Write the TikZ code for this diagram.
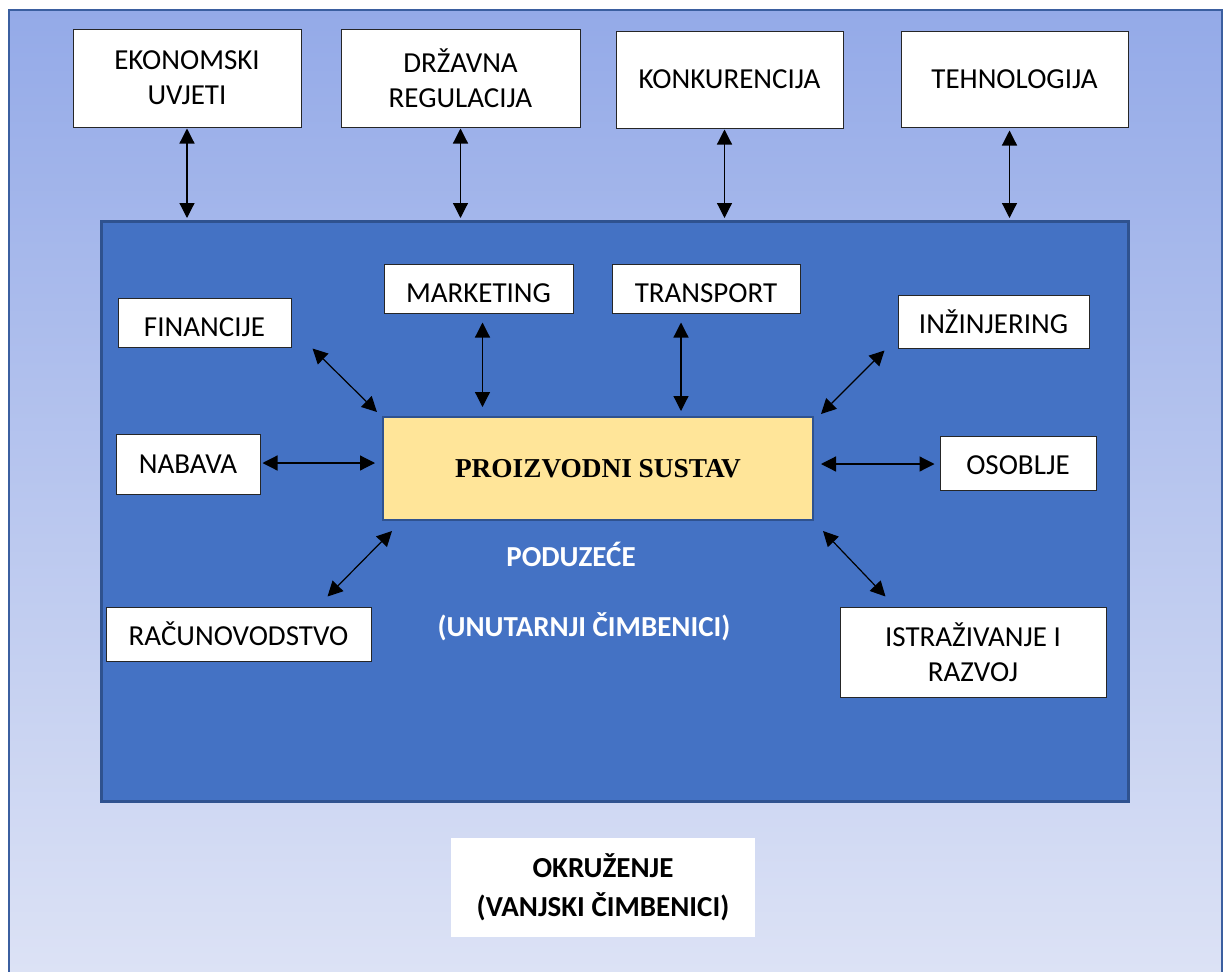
\documentclass[tikz,border=0pt]{standalone}
\usepackage{fontspec}
\setmainfont{Carlito}
\newfontfamily\psfont{Liberation Serif}
\usetikzlibrary{arrows.meta,calc}
\definecolor{outerTop}{HTML}{94AAE8}
\definecolor{outerBot}{HTML}{DCE2F5}
\definecolor{outerBorder}{HTML}{3B5FA0}
\definecolor{innerFill}{HTML}{4472C4}
\definecolor{innerBorder}{HTML}{2F528F}
\definecolor{psFill}{HTML}{FFE599}
\begin{document}
\begin{tikzpicture}[x=1pt,y=-1pt,
  box/.style={draw=black!85, line width=1pt, fill=white, align=center, inner sep=0pt,
    font=\fontsize{29}{35}\selectfont, text=black},
  lowtext/.style={text height=#1},
  arr/.style={{Triangle[length=15pt,width=15pt]}-{Triangle[length=15pt,width=15pt]}, line width=1.2pt, draw=black},
  wlabel/.style={text=white, font=\fontsize{29}{32}\selectfont\bfseries, inner sep=0pt}]
\useasboundingbox (0,0) rectangle (1227,972);
\fill[white] (0,0) rectangle (1227,972);
\shade[top color=outerTop, bottom color=outerBot] (9,10) rectangle (1222,972);
\draw[outerBorder, line width=2pt] (9,980) -- (9,10) -- (1222,10) -- (1222,980);

% inner company box
\node[draw=innerBorder, line width=3pt, fill=innerFill, minimum width=1027pt, minimum height=580pt, inner sep=0pt] (inner) at (615,511.5) {};

% external factors
\node[box, minimum width=228pt, minimum height=98pt] (eko) at (187,78) {EKONOMSKI\\UVJETI};
\node[box, minimum width=239pt, minimum height=98pt] (drz) at (460.5,78) {DRŽAVNA\\REGULACIJA};
\node[box, minimum width=227pt, minimum height=97pt] (kon) at (729.5,79.5) {KONKURENCIJA};
\node[box, minimum width=227pt, minimum height=96pt] (teh) at (1014.5,79) {TEHNOLOGIJA};

% central system
\node[draw=innerBorder, line width=2pt, fill=psFill, minimum width=430pt, minimum height=103pt, inner sep=0pt,
  font=\psfont\fontsize{27.3}{30}\selectfont\bfseries] (ps) at (598,468.5) {PROIZVODNI SUSTAV};

% internal factors
\node[box, lowtext=29pt, minimum width=173pt, minimum height=49pt] (fin) at (204.5,322.5) {FINANCIJE};
\node[box, lowtext=28pt, minimum width=189pt, minimum height=49pt] (mkt) at (478.5,288.5) {MARKETING};
\node[box, lowtext=28pt, minimum width=188pt, minimum height=49pt] (trn) at (706,288.5) {TRANSPORT};
\node[box, minimum width=191pt, minimum height=53pt] (inz) at (993.5,321.5) {INŽINJERING};
\node[box, minimum width=144pt, minimum height=60pt] (nab) at (188,464) {NABAVA};
\node[box, lowtext=24pt, minimum width=156pt, minimum height=54pt] (oso) at (1018,463) {OSOBLJE};
\node[box, minimum width=265pt, minimum height=54pt] (rac) at (238.5,634) {RAČUNOVODSTVO};
\node[box, minimum width=266pt, minimum height=90pt] (ist) at (973,652) {ISTRAŽIVANJE I\\RAZVOJ};

% labels
\node[wlabel] (pod) at (571,554) {PODUZEĆE};
\node[wlabel] (unu) at (584,627) {(UNUTARNJI ČIMBENICI)};
\node[fill=white, minimum width=304pt, minimum height=99pt, inner sep=0pt, align=center,
  font=\fontsize{29}{39}\selectfont\bfseries] (okr) at (603,887.5) {OKRUŽENJE\\(VANJSKI ČIMBENICI)};

% external connectors
\draw[arr] ($(eko.south)+(0,1)$) -- ($(eko.south |- inner.north)+(0,-2)$);
\draw[arr] ($(drz.south)+(0,1)$) -- ($(drz.south |- inner.north)+(0,-2)$);
\draw[arr] ($(kon.south)+(-5,1)$) -- ($(kon.south |- inner.north)+(-5,-2)$);
\draw[arr] ($(teh.south)+(-5,3)$) -- ($(teh.south |- inner.north)+(-5,-2)$);

% internal connectors
\draw[arr] ($(fin.south east)+(21,1)$) -- ($(ps.north west)+(-5,-4)$);
\draw[arr] ($(mkt.south)+(4,9)$) -- ($(mkt.south |- ps.north)+(4,-9)$);
\draw[arr] ($(trn.south)+(-25,9)$) -- ($(trn.south |- ps.north)+(-25,-5)$);
\draw[arr] ($(inz.south west)+(-13,2)$) -- ($(ps.north east)+(7,-2)$);
\draw[arr] ($(nab.east)+(2,-1)$) -- ($(nab.east -| ps.west)+(-7,-1)$);
\draw[arr] ($(ps.east |- oso.west)+(7,1)$) -- ($(oso.west)+(-5,1)$);
\draw[arr] ($(rac.north east)+(-44,-10)$) -- ($(ps.south west)+(10,10)$);
\draw[arr] ($(ps.south east)+(9,10)$) -- ($(ist.north west)+(46,-10)$);
\end{tikzpicture}
\end{document}
